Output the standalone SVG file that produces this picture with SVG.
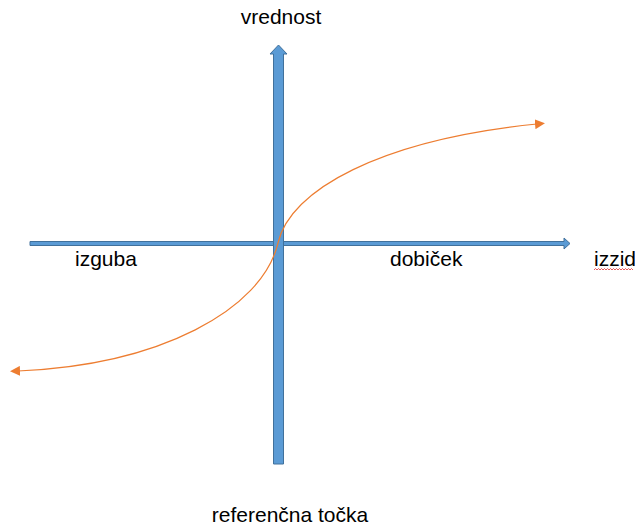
<svg xmlns="http://www.w3.org/2000/svg" width="635" height="527" viewBox="0 0 635 527">
<defs>
<style>
.axis{fill:#5b9bd5;stroke:#41719c;stroke-width:1}
.curve{fill:none;stroke:#ed7d31;stroke-width:1.2}
.lbl{font-family:"Liberation Sans",Arial,sans-serif;font-size:21px;fill:#000}
</style>
<marker id="oa" viewBox="0 0 10 10" refX="2" refY="5" markerWidth="10" markerHeight="10" markerUnits="userSpaceOnUse" orient="auto-start-reverse">
<path d="M0,0 L10,5 L0,10 Z" fill="#ed7d31"/>
</marker>
</defs>
<rect width="635" height="527" fill="#fff"/>
<g id="axes">
<g id="x-axis"><path class="axis" d="M30,241.5 H564 V238 L570,243.5 L564,249 V245.5 H30 Z"/></g>
<g id="y-axis"><path class="axis" d="M273.5,464 V54 H270 L278.5,45 L287,54 H283.5 V464 Z"/></g>
</g>
<g id="connectors">
<path class="curve" d="M18,371 C160,365 262,310 278,243 C290,190 380,140 537,124" marker-start="url(#oa)" marker-end="url(#oa)"/>
</g>
<g id="labels">
<text class="lbl" x="281" y="24" text-anchor="middle">vrednost</text>
<text class="lbl" x="75" y="266">izguba</text>
<text class="lbl" x="390" y="266">dobiček</text>
<g id="izzid"><text class="lbl" x="594" y="266">izzid</text>
<path d="M594,270 l1.5,-1.5 l1.5,1.5 l1.5,-1.5 l1.5,1.5 l1.5,-1.5 l1.5,1.5 l1.5,-1.5 l1.5,1.5 l1.5,-1.5 l1.5,1.5 l1.5,-1.5 l1.5,1.5 l1.5,-1.5 l1.5,1.5 l1.5,-1.5 l1.5,1.5 l1.5,-1.5 l1.5,1.5 l1.5,-1.5 l1.5,1.5 l1.5,-1.5 l1.5,1.5 l1.5,-1.5 l1.5,1.5 l1.5,-1.5 l1.5,1.5" fill="none" stroke="#e03030" stroke-width="0.8"/></g>
<text class="lbl" x="290" y="522" text-anchor="middle">referenčna točka</text>
</g>
</svg>
